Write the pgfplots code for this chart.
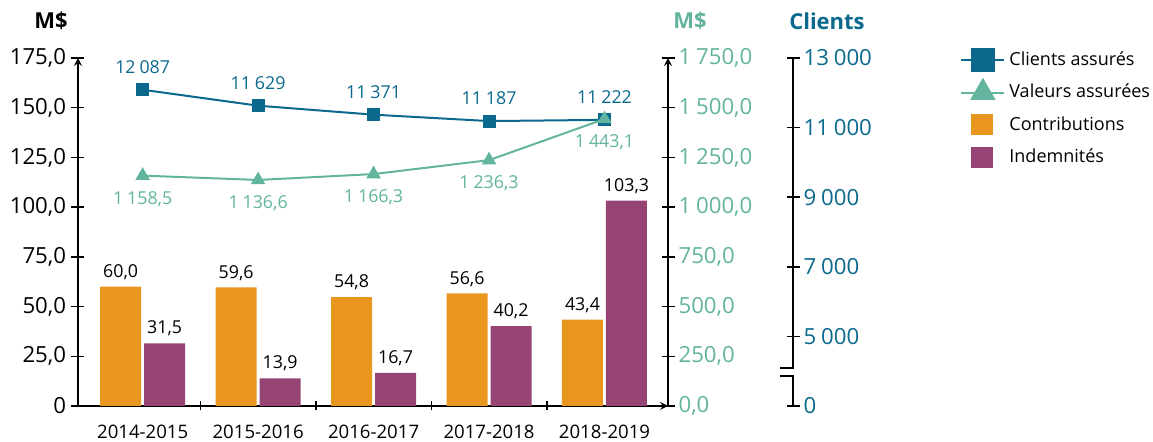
\documentclass[border=0pt]{standalone}
\usepackage{pgfplots}
\pgfplotsset{compat=1.18}
\usepackage{fontspec}
\setmainfont{Open Sans}

\definecolor{orangebar}{RGB}{233,150,30}
\definecolor{purplebar}{RGB}{150,68,115}
\definecolor{clientblue}{RGB}{10,105,140}
\definecolor{valteal}{RGB}{98,180,158}

\newcommand\ks{\hspace{0.22em}}
\newcommand\tickfont{\fontsize{11.1}{13}\selectfont}
\newcommand\lblfont{\fontsize{8.9}{11}\selectfont}
\newcommand\ttlfont{\bfseries\fontsize{11}{13}\selectfont}

\pgfplotsset{
  base/.style={
    at={(0,0)}, anchor=south west,
    scale only axis, width=295pt, height=174pt,
    xmin=-0.56, xmax=4.55,
    clip=false,
    tick align=inside, major tick length=6.5pt,
    axis line style={-, line width=0.75pt},
    tick style={black, line width=0.75pt},
    scaled y ticks=false,
    /pgf/number format/assume math mode=true,
  },
  lineleg/.style={legend image code/.code={
    \draw[##1, mark repeat=2, mark phase=2] plot coordinates {(0pt,0pt) (10.75pt,0pt) (21.5pt,0pt)};}},
  patchleg/.style={legend image code/.code={
    \fill[##1] (5pt,-5.25pt) rectangle (16pt,5.25pt);}},
}

\begin{document}
\begin{tikzpicture}
\useasboundingbox (-39pt,-18pt) rectangle (537.5pt,203pt);

% bars, left axis
\begin{axis}[base,
  ymin=0, ymax=175,
  axis x line=bottom, axis y line=left,
  xtick={0,...,4},
  xticklabels={2014-2015,2015-2016,2016-2017,2017-2018,2018-2019},
  major x tick style={draw=none},
  minor xtick={0.5,1.5,2.5,3.5},
  minor tick length=4.5pt,
  minor x tick style={black, line width=0.75pt},
  xticklabel style={font=\fontsize{9.3}{11}\selectfont, yshift=-2.5pt},
  ytick={0,25,...,175},
  yticklabels={0,{25,0},{50,0},{75,0},{100,0},{125,0},{150,0},{175,0}},
  yticklabel style={font=\tickfont, xshift=0.8pt},
  nodes near coords={\pgfmathprintnumber[fixed,fixed zerofill,precision=1,use comma]{\pgfplotspointmeta}},
  every node near coord/.append style={font=\lblfont, black},
  legend style={at={(1.4949,1.0316)}, anchor=north west, draw=none, fill=none,
    inner sep=0pt, row sep=3.8pt, font=\fontsize{9}{11}\selectfont},
  legend cell align=left,
]
\addlegendimage{clientblue, line width=1pt, mark=square*, mark size=5.5pt, lineleg}
\addlegendentry{Clients assurés}
\addlegendimage{valteal, line width=1pt, mark=triangle*, mark size=6.4pt, lineleg}
\addlegendentry{Valeurs assurées}
\addplot[ybar, bar width=20.5pt, bar shift=-11pt, fill=orangebar, draw=none, patchleg,
  every node near coord/.append style={xshift=-11pt}]
  coordinates {(0,60.0) (1,59.6) (2,54.8) (3,56.6) (4,43.4)};
\addlegendentry{Contributions}
\addplot[ybar, bar width=20.5pt, bar shift=11pt, fill=purplebar, draw=none, patchleg,
  every node near coord/.append style={xshift=11pt}]
  coordinates {(0,31.5) (1,13.9) (2,16.7) (3,40.2) (4,103.3)};
\addlegendentry{Indemnités}
\end{axis}

% clients line
\begin{axis}[base, ymin=3000, ymax=13000, hide axis]
\addplot[clientblue, line width=1pt, mark=square*, mark size=2.75pt,
  nodes near coords={\pgfmathprintnumber[fixed,precision=0,1000 sep={\ks}]{\pgfplotspointmeta}},
  every node near coord/.append style={anchor=south, yshift=4.4pt, font=\lblfont, clientblue}]
  coordinates {(0,12087) (1,11629) (2,11371) (3,11187) (4,11222)};
\end{axis}

% valeurs assurees, middle axis
\begin{axis}[base, ymin=0, ymax=1750,
  axis x line=none, axis y line=right,
  ytick={0,250,...,1750},
  yticklabels={{0,0},{250,0},{500,0},{750,0},{1\ks000,0},{1\ks250,0},{1\ks500,0},{1\ks750,0}},
  yticklabel style={font=\tickfont, valteal, xshift=-1.5pt},
]
\addplot[valteal, line width=1pt, mark=triangle*, mark size=3.2pt,
  nodes near coords={\pgfmathprintnumber[fixed,fixed zerofill,precision=1,use comma,1000 sep={\ks}]{\pgfplotspointmeta}},
  every node near coord/.append style={anchor=north, yshift=-4pt, font=\lblfont, valteal}]
  coordinates {(0,1158.5) (1,1136.6) (2,1166.3) (3,1236.3) (4,1443.1)};
\end{axis}

% clients axis with break
\begin{axis}[base, at={(62.5pt,0)}, xmin=0, xmax=1, ymin=3000, ymax=13000,
  axis x line=none, axis y line=right, y axis line style={draw=none},
  ytick={3000,5000,7000,9000,11000,13000},
  yticklabels={0,5\ks000,7\ks000,9\ks000,11\ks000,13\ks000},
  yticklabel style={font=\tickfont, clientblue, xshift=-1.5pt},
]
\addplot[draw=none] coordinates {(0,3000)};
\draw[line width=0.75pt] (axis cs:1,13000) -- (axis cs:1,4094) -- ([xshift=-6.5pt]axis cs:1,4094);
\draw[line width=0.75pt] (axis cs:1,3000) -- (axis cs:1,3866) -- ([xshift=-6.5pt]axis cs:1,3866);
\end{axis}

\node[font=\ttlfont] at (-13.5pt,192.5pt) {M\$};
\node[font=\ttlfont, valteal] at (306pt,192.5pt) {M\$};
\node[font=\ttlfont, clientblue] at (374.5pt,192.5pt) {Clients};
\end{tikzpicture}
\end{document}
